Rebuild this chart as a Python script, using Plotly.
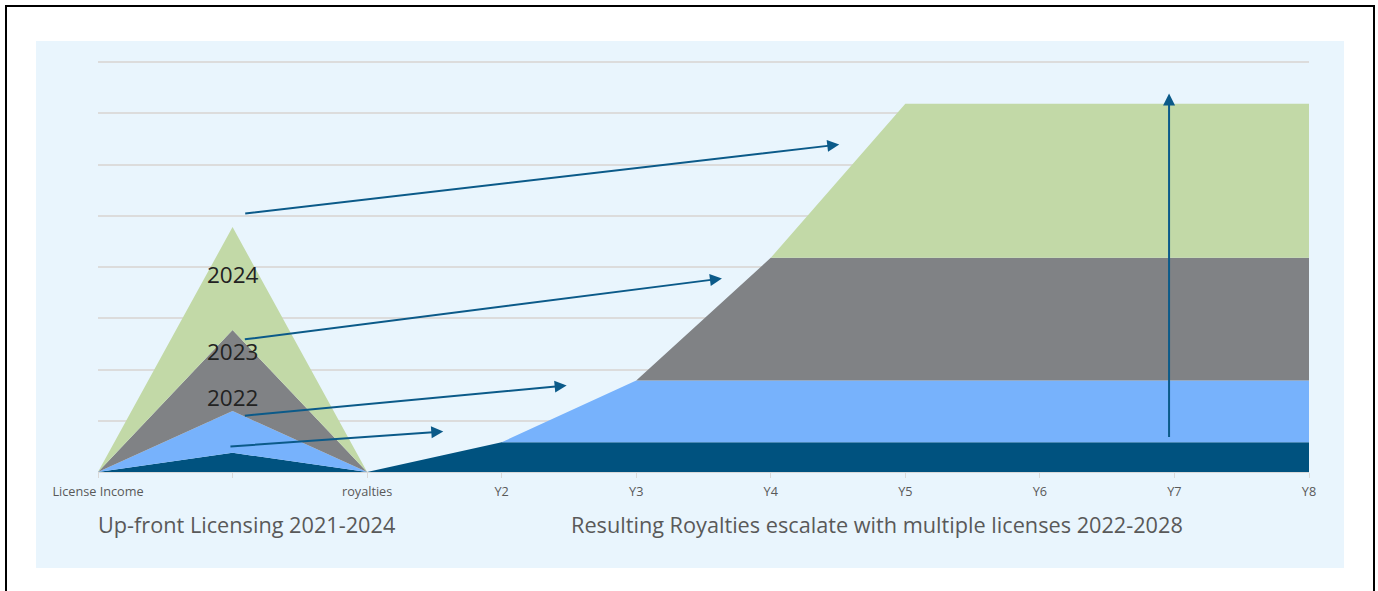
import plotly.graph_objects as go

# ---- data ----
categories = ["License Income", "", "royalties", "Y2", "Y3", "Y4", "Y5", "Y6", "Y7", "Y8"]
series_names = ["2021", "2022", "2023", "2024"]
dark_blue = [0, 0.375, 0, 0.58, 0.58, 0.58, 0.58, 0.58, 0.58, 0.58]
light_blue = [0, 0.815, 0, 0, 1.205, 1.205, 1.205, 1.205, 1.205, 1.205]
gray = [0, 1.58, 0, 0, 0, 2.395, 2.395, 2.395, 2.395, 2.395]
green = [0, 2.01, 0, 0, 0, 0, 3.005, 3.005, 3.005, 3.005]

year_labels = ["2024", "2023", "2022"]
year_label_y = [3.85, 2.35, 1.45]

# arrows: (tail_x, tail_y, head_x, head_y) in data units
arrow_tails_x = [0.973, 1.080, 1.080, 1.083, 7.96]
arrow_tails_y = [0.497, 1.097, 2.585, 5.040, 0.654]
arrow_heads_x = [2.566, 3.483, 4.637, 5.509, 7.96]
arrow_heads_y = [0.790, 1.688, 3.776, 6.390, 7.385]

bottom_titles = ["Up-front Licensing 2021-2024",
                 "Resulting Royalties escalate with multiple licenses 2022-2028"]

colors = ["#00527f", "#77b2fc", "#808285", "#c2d9a7"]
xs = list(range(len(categories)))

fig = go.Figure()
for name, vals, col in zip(series_names, [dark_blue, light_blue, gray, green], colors):
    fig.add_trace(go.Scatter(
        x=xs, y=vals, name=name, mode="lines", stackgroup="one",
        line=dict(width=0, color=col), fillcolor=col, hoverinfo="skip"))

annotations = []
for t, yv in zip(year_labels, year_label_y):
    annotations.append(dict(x=1, y=yv, xref="x", yref="y", text=t, showarrow=False,
                            font=dict(family="Open Sans", size=22.5, color="#222222")))

for tx, ty, hx, hy in zip(arrow_tails_x, arrow_tails_y, arrow_heads_x, arrow_heads_y):
    annotations.append(dict(x=hx, y=hy, ax=tx, ay=ty, xref="x", yref="y",
                            axref="x", ayref="y", text="", showarrow=True,
                            arrowhead=2, arrowsize=1.2, arrowwidth=2,
                            arrowcolor="#0b5a89", standoff=0))

L, R, T, B = 98, 69, 58, 119
W, H = 1378, 591
pw, ph = W - L - R, H - T - B

def px(x):
    return (x - L) / pw

def py(y):
    return (H - B - y) / ph

title_px = [246, 877]
title_py = [524, 524]
for t, x0, y0 in zip(bottom_titles, title_px, title_py):
    annotations.append(dict(x=px(x0), y=py(y0), xref="paper", yref="paper", text=t,
                            showarrow=False, xanchor="center", yanchor="middle",
                            font=dict(family="Open Sans", size=21.7, color="#595959")))

shapes = [
    dict(type="rect", xref="paper", yref="paper", x0=px(36), x1=px(1344), y0=py(568), y1=py(41),
         fillcolor="#e9f5fd", line=dict(width=0), layer="below"),
    dict(type="rect", xref="paper", yref="paper", x0=px(6), x1=px(1374), y0=py(620), y1=py(6),
         fillcolor="rgba(0,0,0,0)", line=dict(width=2, color="black"), layer="below"),
]

fig.update_layout(
    width=W, height=H,
    margin=dict(l=L, r=R, t=T, b=B),
    paper_bgcolor="white",
    plot_bgcolor="rgba(0,0,0,0)",
    showlegend=False,
    annotations=annotations,
    shapes=shapes,
    xaxis=dict(range=[0, 9], tickmode="array", tickvals=xs, ticktext=categories,
               showgrid=False, zeroline=False, showline=True, linecolor="#d9d9d9",
               ticks="outside", ticklen=5, tickcolor="#d9d9d9", ticklabelstandoff=3,
               tickfont=dict(family="Open Sans", size=12.7, color="#595959")),
    yaxis=dict(range=[0, 8.078], tickmode="array", tickvals=[0, 1, 2, 3, 4, 5, 6, 7, 8],
               showticklabels=False, showgrid=True,
               gridcolor="#dcdcdc", gridwidth=1.5, zeroline=False),
    font=dict(family="Open Sans"),
)

fig.write_html("out.html")
